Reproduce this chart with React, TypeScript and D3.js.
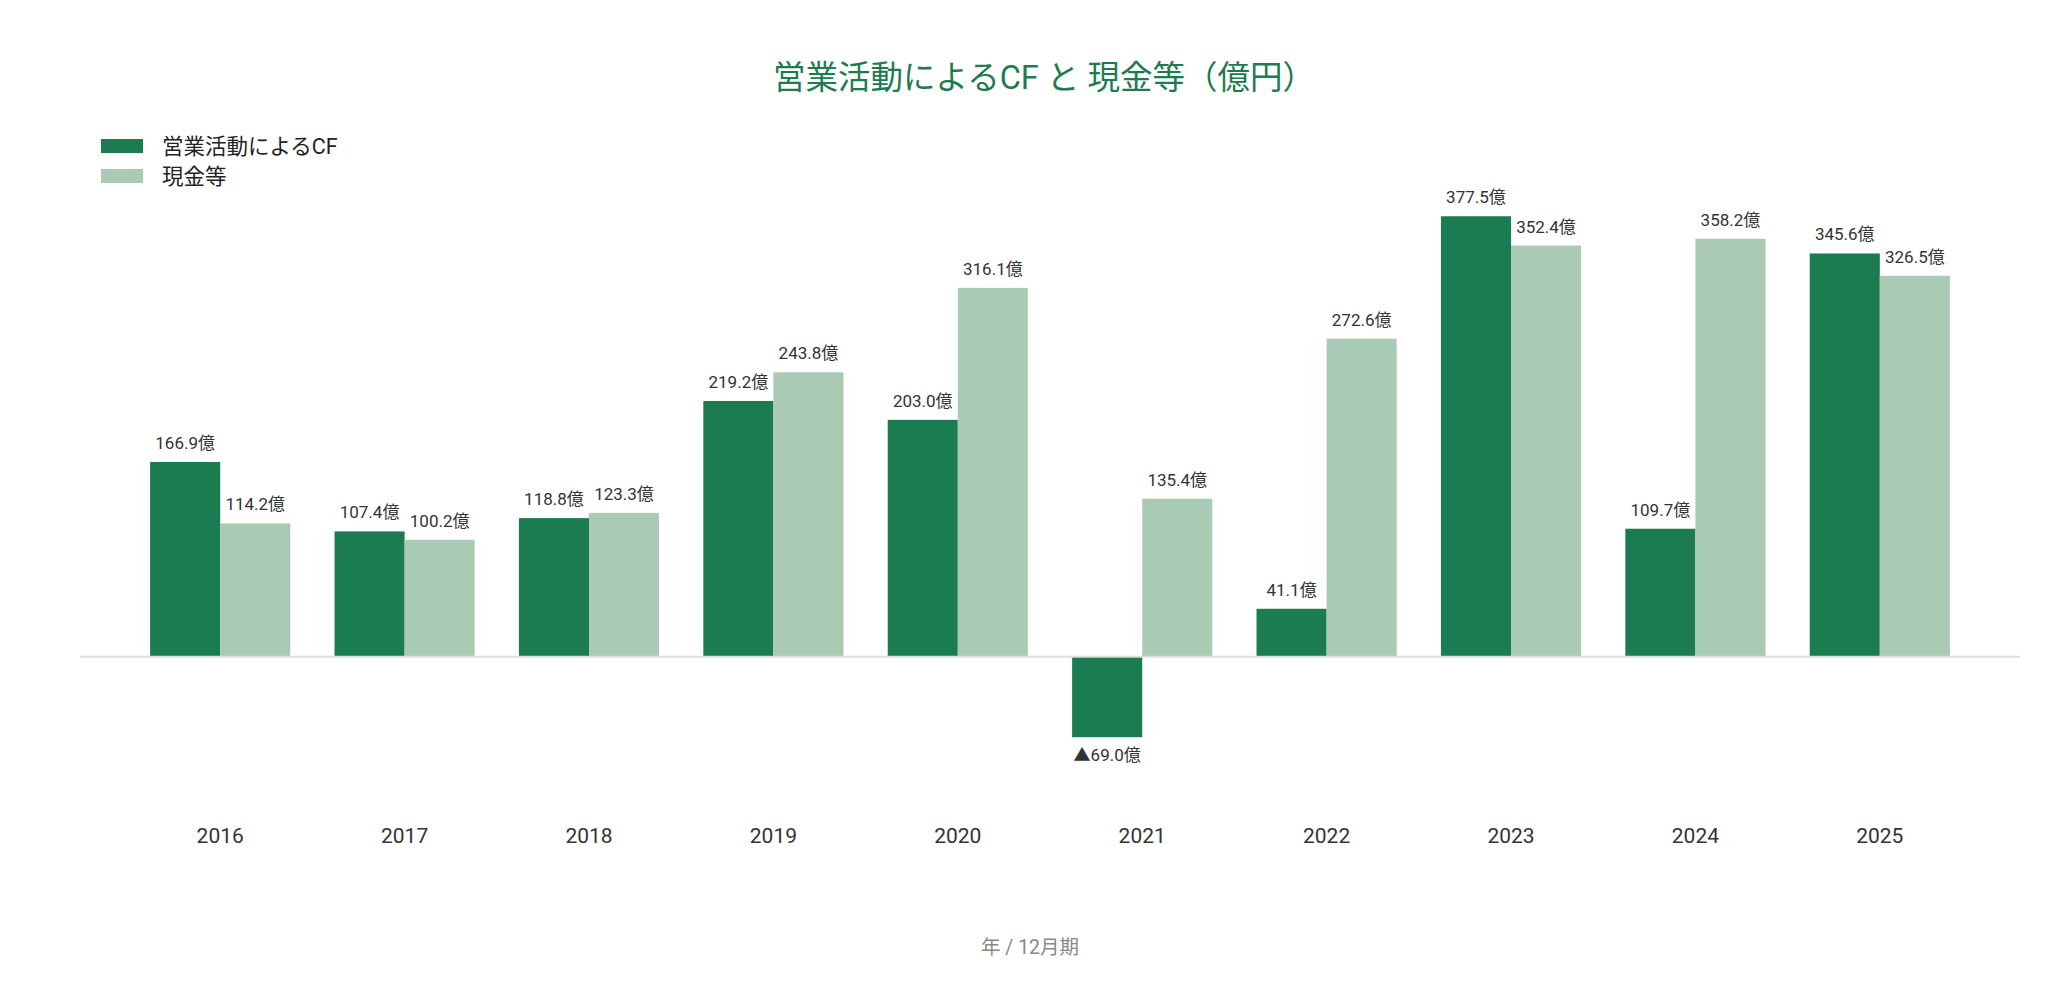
import * as d3 from 'd3';
import React from 'react';

const years = ['2016', '2017', '2018', '2019', '2020', '2021', '2022', '2023', '2024', '2025'];
const operatingCF = [166.9, 107.4, 118.8, 219.2, 203.0, -69.0, 41.1, 377.5, 109.7, 345.6];
const cash = [114.2, 100.2, 123.3, 243.8, 316.1, 135.4, 272.6, 352.4, 358.2, 326.5];
const seriesNames = ['営業活動によるCF', '現金等'];
const title = '営業活動によるCF と 現金等（億円）';
const footer = '年 / 12月期';

const W = 2059;
const H = 986;
const DARK = '#1b7b51';
const LIGHT = '#a9cbb6';
const FONT = 'Roboto, "Noto Sans CJK JP", sans-serif';

const fmt = (v: number) => (v < 0 ? '▲' + Math.abs(v).toFixed(1) : v.toFixed(1)) + '億';

export default function App() {
  // scales
  const x = d3.scaleBand<string>().domain(years).range([128, 1972]).paddingInner(0.24).paddingOuter(0.12);
  const x1 = d3.scaleBand<string>().domain(['cf', 'cash']).range([0, x.bandwidth()]);
  const y = d3.scaleLinear().domain([-100, 400]).range([773.4, 190]);
  const y0 = y(0);

  const series = [
    { key: 'cf', values: operatingCF, color: DARK },
    { key: 'cash', values: cash, color: LIGHT },
  ];

  return (
    <svg width={W} height={H} style={{ position: 'absolute', left: 0, top: 0, fontFamily: FONT }}>
      <rect width={W} height={H} fill="#fff" />
      <text x={1044} y={89} textAnchor="middle" fontSize={32.5} fill="#1e7b50">{title}</text>

      {/* legend */}
      {seriesNames.map((name, i) => (
        <g key={name} transform={`translate(101, ${139 + i * 30})`}>
          <rect width={42} height={14} fill={i === 0 ? DARK : LIGHT} />
          <text x={61} y={7} dy="0.35em" fontSize={21.5} fill="#222">{name}</text>
        </g>
      ))}

      {/* bars */}
      {series.map((s) => (
        <g key={s.key}>
          {years.map((yr, i) => {
            const v = s.values[i];
            const bx = (x(yr) ?? 0) + (x1(s.key) ?? 0);
            const top = Math.min(y(v), y0);
            const h = Math.abs(y(v) - y0);
            return (
              <g key={yr}>
                <rect x={bx} y={top} width={x1.bandwidth()} height={h} fill={s.color} />
                <text
                  x={bx + x1.bandwidth() / 2}
                  y={v >= 0 ? y(v) - 13 : y(v) + 24}
                  textAnchor="middle"
                  fontSize={17}
                  fill="#333"
                >
                  {fmt(v)}
                </text>
              </g>
            );
          })}
        </g>
      ))}

      {/* baseline */}
      <line x1={80} x2={2020} y1={y0} y2={y0} stroke="#dcdcdc" strokeWidth={2} />

      {/* x labels */}
      {years.map((yr) => (
        <text key={yr} x={(x(yr) ?? 0) + x.bandwidth() / 2} y={843} textAnchor="middle" fontSize={21} fill="#333">
          {yr}
        </text>
      ))}

      <text x={1030} y={954} textAnchor="middle" fontSize={19.5} fill="#888">{footer}</text>
    </svg>
  );
}
